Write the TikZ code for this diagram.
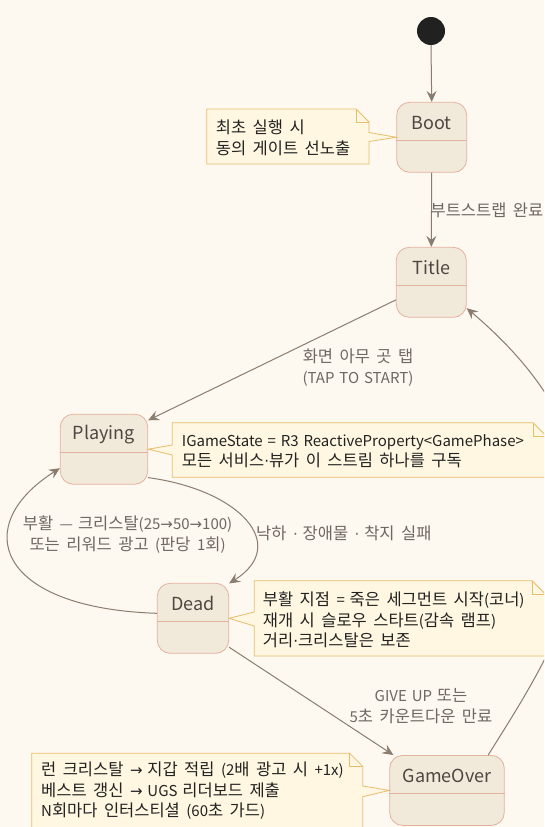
\documentclass[tikz,border=0pt]{standalone}
\usepackage{fontspec}
\setmainfont{Noto Sans CJK KR}[WordSpace=1.45]
\newfontfamily\arrfont{DejaVu Sans}[WordSpace=1.2]
\newfontfamily\hgfont{Noto Sans CJK KR}[Scale=1.1]
\makeatletter
\expandafter\def\expandafter\hgsp\space{\hskip0.43em plus 0.1em\relax}
\def\hgcheck{\ifx\hgnext\@sptoken\expandafter\hgsp\fi}
\def\hgend{\endgroup\futurelet\hgnext\hgcheck}
\makeatother
\XeTeXinterchartokenstate=1
\newXeTeXintercharclass\hgclass
\newcount\hgc \hgc="AC00
\loop \XeTeXcharclass\hgc=\hgclass \ifnum\hgc<"D7A3 \advance\hgc by 1 \repeat
\XeTeXinterchartoks 0 \hgclass = {\begingroup\hgfont}
\XeTeXinterchartoks 4095 \hgclass = {\begingroup\hgfont}
\XeTeXinterchartoks \hgclass 0 = {\endgroup}
\XeTeXinterchartoks \hgclass 4095 = {\hgend}
\usetikzlibrary{arrows.meta,calc}
\definecolor{bg}{HTML}{FDF8F0}
\definecolor{stfill}{HTML}{F1EADB}
\definecolor{stdraw}{HTML}{E4B19D}
\definecolor{notefill}{HTML}{FFF7E1}
\definecolor{notedraw}{HTML}{E6BD6A}
\definecolor{edgecol}{HTML}{8A7C6F}
\definecolor{lblcol}{HTML}{6F6763}
\definecolor{sttext}{HTML}{4D4641}
\definecolor{notetext}{HTML}{222222}
\newcommand{\ar}{{\arrfont →}}
\newcommand{\md}{{\arrfont ·}}
\begin{document}
\begin{tikzpicture}[x=1pt,y=-1pt,
  state/.style={draw=stdraw, fill=stfill, line width=0.8pt, rounded corners=13pt,
    minimum height=70pt, inner sep=0pt},
  stname/.style={text=sttext, font=\fontsize{18}{20}\selectfont, inner sep=0pt},
  divider/.style={draw=stdraw, line width=0.8pt},
  notebox/.style={draw=notedraw, fill=notefill, line width=0.8pt, line join=miter},
  notefold/.style={draw=notedraw, line width=0.8pt},
  notetxt/.style={text=notetext, font=\fontsize{15}{20.4}\selectfont, align=left, inner sep=0pt, anchor=west},
  edge/.style={draw=edgecol, line width=1pt, -{Stealth[length=11pt,width=10pt,inset=4pt]}},
  lbl/.style={text=lblcol, font=\fontsize{15}{20.5}\selectfont, align=center, inner sep=0pt},
  initst/.style={circle, fill=black!87, minimum size=28pt, inner sep=0pt}
]
\fill[bg] (0,0) rectangle (544,827);
\clip (0,0) rectangle (544,827);

% states
\node[initst] (init) at (431,31) {};
\node[state, minimum width=70pt] (boot) at (431.7,137.3) {};
\node[state, minimum width=70pt] (title) at (431.3,282.3) {};
\node[state, minimum width=87.4pt] (playing) at (104,449.2) {};
\node[state, minimum width=71.4pt] (dead) at (193,618.3) {};
\node[state, minimum width=114.6pt] (gameover) at (447,790.4) {};

\foreach \s in {boot,title,playing,dead,gameover}{
  \draw[divider] ($(\s.north west)+(0,38.5)$) -- ($(\s.north east)+(0,38.5)$);
}
\node[stname] (bootT) at ($(boot.north)+(0,21)$) {Boot};
\node[stname] (titleT) at ($(title.north)+(0,21)$) {Title};
\node[stname] (playingT) at ($(playing.north)+(0,21)$) {Playing};
\node[stname] (deadT) at ($(dead.north)+(0,21)$) {Dead};
\node[stname] (gameoverT) at ($(gameover.north)+(0,21)$) {GameOver};

% notes
\draw[notebox] (206.7,109) -- (356,109) -- (369,122) -- (369,132.5) -- (boot.west)
  -- (369,141.5) -- (369,164) -- (206.7,164) -- cycle;
\draw[notefold] (356,109) -- (356,122) -- (369,122);
\node[notetxt] (bootN) at (215.7,137.7) {최초 실행 시\\동의 게이트 선노출};

\draw[notebox] (172.3,422.7) -- (533,422.7) -- (547,436.7) -- (547,477.3) -- (172.3,477.3)
  -- (172.3,455) -- (playing.east) -- (172.3,445) -- cycle;
\draw[notefold] (533,422.7) -- (533,436.7) -- (547,436.7);
\node[notetxt] (playingN) at (181.7,451) {IGameState = R3 ReactiveProperty<GamePhase>\\모든 서비스\md 뷰가 이 스트림 하나를 구독};

\draw[notebox] (254.3,580.7) -- (532,580.7) -- (546,594.7) -- (546,656) -- (254.3,656)
  -- (254.3,626) -- (dead.east) -- (254.3,612) -- cycle;
\draw[notefold] (532,580.7) -- (532,594.7) -- (546,594.7);
\node[notetxt] (deadN) at (262.7,620) {부활 지점 = 죽은 세그먼트 시작(코너)\\재개 시 슬로우 스타트(감속 램프)\\거리\md 크리스탈은 보존};

\draw[notebox] (31.7,753.3) -- (349.7,753.3) -- (362.7,766.3) -- (362.7,786) -- (gameover.west)
  -- (362.7,796.7) -- (362.7,840) -- (31.7,840) -- cycle;
\draw[notefold] (349.7,753.3) -- (349.7,766.3) -- (362.7,766.3);
\node[notetxt] (gameoverN) at (41,791) {런 크리스탈 \ar{} 지갑 적립 (2배 광고 시 +1x)\\베스트 갱신 \ar{} UGS 리더보드 제출\\N회마다 인터스티셜 (60초 가드)};

% edges
\draw[edge] (init.south) -- (boot.north);
\draw[edge] (boot.south) -- (title.north);
\draw[edge] ($(title.north west)+(0,53)$) -- ($(playing.north east)+(0,6.5)$);
\draw[edge] ($(playing.south east)+(0,-7)$) .. controls (240,490) and (290,545) .. ($(dead.north east)+(0,0.5)$);
\draw[edge] ($(dead.west)+(0,-5)$) .. controls (-5,608) and (-30,525) .. ($(playing.west)+(0,19)$);
\draw[edge] ($(dead.south east)+(0,-6.5)$) -- ($(gameover.north west)+(4,0)$);
\draw[edge] ($(gameover.north east)+(-16.5,0)$) .. controls (560,640) and (670,480) .. ($(title.south east)+(0,-9.5)$);

% edge labels
\node[lbl, anchor=east] (l1) at (543.5,210) {부트스트랩 완료};
\node[lbl] (l2) at (358,367.5) {화면 아무 곳 탭\\(TAP TO START)};
\node[lbl] (l3) at (127.6,534.6) {부활 — 크리스탈(25\ar50\ar100)\\또는 리워드 광고 (판당 1회)};
\node[lbl, anchor=west] (l4) at (256,533.5) {낙하 \md{} 장애물 \md{} 착지 실패};
\node[lbl] (l5) at (421,706) {GIVE UP 또는\\5초 카운트다운 만료};
\end{tikzpicture}
\end{document}
